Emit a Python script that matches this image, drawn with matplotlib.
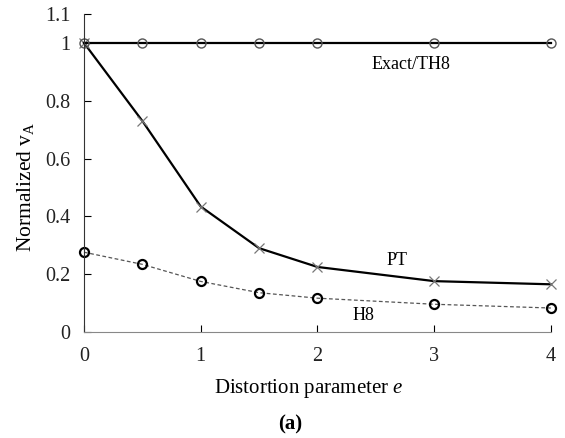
import matplotlib
matplotlib.use('Agg')
import matplotlib.pyplot as plt

plt.rcParams['font.family'] = ['Liberation Serif', 'DejaVu Serif']
plt.rcParams['mathtext.fontset'] = 'custom'
plt.rcParams['mathtext.rm'] = 'Liberation Serif'
plt.rcParams['mathtext.it'] = 'Liberation Serif:italic'

e = [0, 0.5, 1, 1.5, 2, 3, 4]
exact = [1.0, 1.0, 1.0, 1.0, 1.0, 1.0, 1.0]
pt = [1.0, 0.73, 0.434, 0.29, 0.225, 0.176, 0.165]
h8 = [0.276, 0.234, 0.175, 0.136, 0.117, 0.096, 0.083]

yticks = [0, 0.2, 0.4, 0.6, 0.8, 1.0, 1.1]
ytick_labels = ['0', '0.2', '0.4', '0.6', '0.8', '1', '1.1']
xticks = [0, 1, 2, 3, 4]

fig = plt.figure(figsize=(5.65, 4.38), dpi=100)
ax = fig.add_axes([0.1487, 0.242, 0.8263, 0.726])

ax.plot(e, h8, color='#555555', linestyle=(0, (3, 2)), linewidth=0.9,
        marker='o', markersize=6.5, markerfacecolor='none',
        markeredgecolor='black', markeredgewidth=1.6, clip_on=False)
ax.plot(e, pt, color='black', linewidth=1.6, marker='x', markersize=7,
        markeredgecolor='#777777', markeredgewidth=0.9, clip_on=False)
ax.plot(e, exact, color='black', linewidth=1.6, marker='o', markersize=6.5,
        markerfacecolor='none', markeredgecolor='#555555',
        markeredgewidth=1.0, clip_on=False)

# curve labels
ax.text(2.80, 0.910, 'Exact/TH8', fontsize=13, ha='center', va='baseline')
ax.text(2.68, 0.232, 'PT', fontsize=13, ha='center', va='baseline')
ax.text(2.39, 0.042, 'H8', fontsize=13, ha='center', va='baseline')

ax.set_xlim(0, 4)
ax.set_ylim(0, 1.1)
ax.set_xticks(xticks)
ax.set_yticks(yticks)
ax.set_yticklabels(ytick_labels)
ax.tick_params(direction='in', length=5, width=0.8, labelsize=14.5,
               colors='black', labelcolor='#222222')
ax.tick_params(axis='x', pad=11)
ax.tick_params(axis='y', pad=10)
ax.spines['top'].set_visible(False)
ax.spines['right'].set_visible(False)
ax.spines['left'].set_color('#333333')
ax.spines['bottom'].set_color('#888888')

ax.set_xlabel('Distortion parameter $\\mathit{e}$', fontsize=15)
ax.set_ylabel('Normalized v$_{\\mathrm{A}}$', fontsize=15.5)
ax.xaxis.set_label_coords(0.482, -0.143)
ax.yaxis.set_label_coords(-0.102, 0.456)

fig.text(0.513, 0.030, '(a)', fontsize=15, fontweight='bold',
         ha='center', va='center')

fig.savefig('out.png', dpi=100)
